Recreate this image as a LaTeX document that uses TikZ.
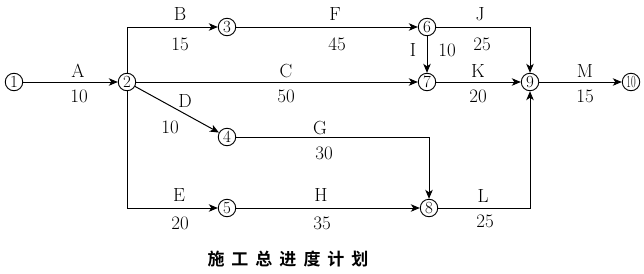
\documentclass[tikz,border=0pt]{standalone}
\usepackage{fontspec}
\usepackage{graphicx}
\newfontfamily\cjk{Noto Sans CJK SC}[BoldFont={* Bold}]
\usetikzlibrary{arrows.meta}
\begin{document}
\begin{tikzpicture}[x=1pt,y=-1pt,
  ev/.style={circle,draw,line width=0.9pt,inner sep=0pt,minimum size=17.5pt,font=\fontsize{17}{17}\selectfont},
  lbl/.style={font=\fontsize{19}{19}\selectfont,inner sep=0pt},
  act/.style={line width=1pt,-{Stealth[length=9pt,width=7.5pt,inset=2.5pt]}}]
\useasboundingbox (0,0) rectangle (644,273);
% events
\node[ev] (n1) at (14,82) {1};
\node[ev] (n2) at (127,82) {2};
\node[ev] (n3) at (227,27) {3};
\node[ev] (n4) at (227,137) {4};
\node[ev] (n5) at (227,208) {5};
\node[ev] (n6) at (427,27) {6};
\node[ev] (n7) at (427,82) {7};
\node[ev] (n8) at (429,208) {8};
\node[ev] (n9) at (530,82) {9};
\node[ev] (n10) at (631,82) {\scalebox{0.6}[1]{10}};
% activities
\draw[act] (n1) -- (n2);
\draw[act] (n2) |- (n3);
\draw[act] (n2) -- (n7);
\draw[act] (n2) -- (n4);
\draw[act] (n2) |- (n5);
\draw[act] (n3) -- (n6);
\draw[act] (n6) -- (n7);
\draw[act] (n6) -| (n9);
\draw[act] (n7) -- (n9);
\draw[act] (n4) -| (n8);
\draw[act] (n5) -- (n8);
\draw[act] (n8) -| (n9);
\draw[act] (n9) -- (n10);
% labels
\node[lbl] (lA) at (78,71) {A};
\node[lbl] (dA) at (79,96) {10};
\node[lbl] (lB) at (180,14) {B};
\node[lbl] (dB) at (180,44) {15};
\node[lbl] (lF) at (335,14) {F};
\node[lbl] (dF) at (337,44) {45};
\node[lbl] (lJ) at (480,14) {J};
\node[lbl] (dJ) at (482,44) {25};
\node[lbl] (lI) at (413,50) {I};
\node[lbl] (dI) at (447,50) {10};
\node[lbl] (lC) at (286,71) {C};
\node[lbl] (dC) at (286,96) {50};
\node[lbl] (lK) at (478,71) {K};
\node[lbl] (dK) at (478,96) {20};
\node[lbl] (lM) at (585,71) {M};
\node[lbl] (dM) at (585,96) {15};
\node[lbl] (lD) at (185,101) {D};
\node[lbl] (dD) at (170,127) {10};
\node[lbl] (lG) at (320,128) {G};
\node[lbl] (dG) at (324,153) {30};
\node[lbl] (lE) at (179,195) {E};
\node[lbl] (dE) at (180,223) {20};
\node[lbl] (lH) at (321,195) {H};
\node[lbl] (dH) at (322,223) {35};
\node[lbl] (lL) at (483,196) {L};
\node[lbl] (dL) at (485,221) {25};
% title
\node[inner sep=0pt,font=\cjk\bfseries\fontsize{17}{17}\selectfont] (title) at (288,259)
  {施\hspace{7pt}工\hspace{7pt}总\hspace{7pt}进\hspace{7pt}度\hspace{7pt}计\hspace{7pt}划};
\end{tikzpicture}
\end{document}
